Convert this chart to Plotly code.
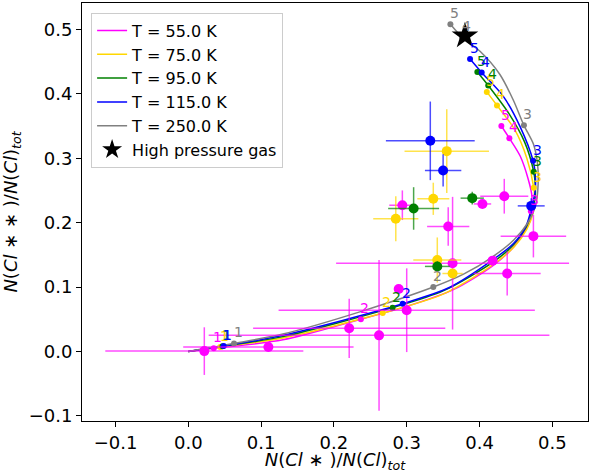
import plotly.graph_objects as go

# ---------------- data ----------------
temps = ["T = 55.0 K", "T = 75.0 K", "T = 95.0 K", "T = 115.0 K", "T = 250.0 K"]
density_labels = ["1", "2", "3", "4", "5"]

# model curves
c55_x = [0.000, 0.035, 0.130, 0.237, 0.300, 0.364, 0.418, 0.445, 0.461, 0.4695, 0.4705, 0.472, 0.467, 0.456, 0.441, 0.430]
c55_y = [0.000, 0.005, 0.018, 0.050, 0.070, 0.096, 0.133, 0.160, 0.185, 0.203, 0.2175, 0.241, 0.267, 0.303, 0.331, 0.350]
c75_x = [0.000, 0.044, 0.130, 0.267, 0.350, 0.420, 0.448, 0.465, 0.4735, 0.4755, 0.4745, 0.465, 0.448, 0.424, 0.410]
c75_y = [0.000, 0.007, 0.021, 0.0596, 0.089, 0.136, 0.163, 0.190, 0.215, 0.237, 0.254, 0.300, 0.345, 0.382, 0.403]
c95_x = [0.000, 0.047, 0.130, 0.2806, 0.350, 0.419, 0.447, 0.464, 0.4725, 0.4765, 0.4765, 0.4745, 0.462, 0.440, 0.412, 0.397]
c95_y = [0.000, 0.008, 0.023, 0.068, 0.094, 0.139, 0.166, 0.193, 0.220, 0.240, 0.260, 0.279, 0.325, 0.370, 0.413, 0.434]
c115_x = [0.000, 0.0486, 0.130, 0.2944, 0.360, 0.418, 0.447, 0.464, 0.472, 0.4765, 0.4765, 0.4736, 0.4557, 0.4327, 0.403, 0.387]
c115_y = [0.000, 0.0084, 0.025, 0.074, 0.100, 0.142, 0.168, 0.195, 0.225, 0.250, 0.275, 0.296, 0.349, 0.396, 0.433, 0.454]
c250_x = [0.000, 0.0628, 0.130, 0.240, 0.3365, 0.378, 0.418, 0.447, 0.466, 0.477, 0.4805, 0.4795, 0.474, 0.461, 0.4465, 0.428, 0.4007, 0.376, 0.360]
c250_y = [0.000, 0.0124, 0.027, 0.063, 0.100, 0.120, 0.147, 0.173, 0.199, 0.226, 0.260, 0.293, 0.322, 0.351, 0.390, 0.430, 0.466, 0.488, 0.508]

# labelled density points (log n = 1..5)
p55_x = [0.035, 0.237, 0.4705, 0.441, 0.430]
p55_y = [0.005, 0.050, 0.2175, 0.331, 0.350]
p75_x = [0.044, 0.267, 0.4745, 0.424, 0.410]
p75_y = [0.007, 0.0596, 0.254, 0.382, 0.403]
p95_x = [0.047, 0.2806, 0.4745, 0.412, 0.397]
p95_y = [0.008, 0.068, 0.279, 0.413, 0.434]
p115_x = [0.0486, 0.2944, 0.4736, 0.403, 0.387]
p115_y = [0.0084, 0.074, 0.296, 0.433, 0.454]
p250_x = [0.0628, 0.3365, 0.461, 0.376, 0.360]
p250_y = [0.0124, 0.100, 0.351, 0.488, 0.508]

# observations
mag_x = [0.022, 0.110, 0.221, 0.262, 0.300, 0.289, 0.363, 0.357, 0.294, 0.404, 0.434, 0.418, 0.438, 0.474]
mag_y = [0.0005, 0.007, 0.036, 0.025, 0.064, 0.097, 0.137, 0.194, 0.227, 0.229, 0.241, 0.141, 0.121, 0.179]
mag_xerr = [0.136, 0.117, 0.132, 0.234, 0.176, 0.0, 0.160, 0.029, 0.018, 0.012, 0.033, 0.0, 0.046, 0.045]
mag_yerr = [0.037, 0.004, 0.046, 0.117, 0.065, 0.0, 0.103, 0.030, 0.023, 0.006, 0.027, 0.0, 0.034, 0.033]

yel_x = [0.355, 0.3365, 0.285, 0.342, 0.363]
yel_y = [0.311, 0.237, 0.206, 0.142, 0.121]
yel_xerr = [0.058, 0.022, 0.031, 0.033, 0.014]
yel_yerr = [0.065, 0.025, 0.035, 0.035, 0.006]

grn_x = [0.3095, 0.390, 0.342]
grn_y = [0.222, 0.238, 0.132]
grn_xerr = [0.035, 0.016, 0.017]
grn_yerr = [0.033, 0.010, 0.008]

blu_x = [0.3324, 0.350, 0.471]
blu_y = [0.327, 0.281, 0.226]
blu_xerr = [0.061, 0.025, 0.0185]
blu_yerr = [0.061, 0.025, 0.012]

star_x = [0.380]
star_y = [0.490]

x_ticks = [-0.1, 0.0, 0.1, 0.2, 0.3, 0.4, 0.5]
x_ticktext = ["\u22120.1", "0.0", "0.1", "0.2", "0.3", "0.4", "0.5"]
y_ticks = [-0.1, 0.0, 0.1, 0.2, 0.3, 0.4, 0.5]
y_ticktext = ["\u22120.1", "0.0", "0.1", "0.2", "0.3", "0.4", "0.5"]

# ---------------- style ----------------
colors = ["#ff00ff", "#ffd700", "#008000", "#0000ff", "#808080"]
err_colors = ["rgba(255,0,255,0.7)", "rgba(255,215,0,0.7)", "rgba(0,128,0,0.7)", "rgba(0,0,255,0.7)"]
FONT = "DejaVu Sans"

curves = [(c55_x, c55_y), (c75_x, c75_y), (c95_x, c95_y), (c115_x, c115_y), (c250_x, c250_y)]
points = [(p55_x, p55_y), (p75_x, p75_y), (p95_x, p95_y), (p115_x, p115_y), (p250_x, p250_y)]
obs = [(mag_x, mag_y, mag_xerr, mag_yerr), (yel_x, yel_y, yel_xerr, yel_yerr),
       (grn_x, grn_y, grn_xerr, grn_yerr), (blu_x, blu_y, blu_xerr, blu_yerr)]

fig = go.Figure()
annotations = []
for i, name in enumerate(temps):
    cx, cy = curves[i]
    fig.add_trace(go.Scatter(x=cx, y=cy, mode="lines", name=name, legendgroup=name,
                             line=dict(color=colors[i], width=1.5, shape="spline", smoothing=0.8)))
for i, name in enumerate(temps):
    px, py = points[i]
    fig.add_trace(go.Scatter(x=px, y=py, mode="markers", showlegend=False, legendgroup=name,
                             marker=dict(color=colors[i], size=6)))
    for lab, xx, yy in zip(density_labels, px, py):
        annotations.append(dict(x=xx, y=yy, text=lab, showarrow=False, xanchor="center", yanchor="middle",
                                xshift=4, yshift=11, font=dict(family=FONT, size=14, color=colors[i])))

for i, (ox, oy, oxe, oye) in enumerate(obs):
    fig.add_trace(go.Scatter(x=ox, y=oy, mode="markers", showlegend=False,
                             marker=dict(color=colors[i], size=10),
                             error_x=dict(type="data", array=oxe, color=err_colors[i], thickness=1.5, width=0),
                             error_y=dict(type="data", array=oye, color=err_colors[i], thickness=1.5, width=0)))

fig.add_trace(go.Scatter(x=star_x, y=star_y, mode="markers", showlegend=False,
                         marker=dict(symbol="star", color="black", size=20)))
# legend entry for the star (smaller symbol so the row keeps the reference spacing)
fig.add_trace(go.Scatter(x=[None], y=[None], mode="markers", name="High pressure gas", legendgroup="star",
                         marker=dict(symbol="star", color="black", size=15)))

fig.update_layout(
    width=589, height=473,
    margin=dict(l=82, r=1, t=3, b=52),
    paper_bgcolor="white", plot_bgcolor="white",
    font=dict(family=FONT, size=18, color="black"),
    annotations=annotations,
    legend=dict(x=0.018, y=0.977, xanchor="left", yanchor="top",
                bgcolor="rgba(255,255,255,0.8)", bordercolor="#cccccc", borderwidth=1,
                font=dict(family=FONT, size=16, color="black"), tracegroupgap=0, itemwidth=30),
    xaxis=dict(range=[-0.146, 0.549], showline=True, linecolor="black", linewidth=1, mirror=True,
               ticks="outside", ticklen=5, tickcolor="black", showgrid=False, zeroline=False,
               tickvals=x_ticks, ticktext=x_ticktext, tickfont=dict(size=18),
               title=dict(text="<i>N</i>(<i>Cl</i> \u2217 )/<i>N</i>(<i>Cl</i>)<sub><i>tot</i></sub>",
                          font=dict(size=18), standoff=4)),
    yaxis=dict(range=[-0.108, 0.541], showline=True, linecolor="black", linewidth=1, mirror=True,
               ticks="outside", ticklen=5, tickcolor="black", showgrid=False, zeroline=False,
               tickvals=y_ticks, ticktext=y_ticktext, tickfont=dict(size=18),
               title=dict(text="<i>N</i>(<i>Cl</i> \u2217 \u2217 )/<i>N</i>(<i>Cl</i>)<sub><i>tot</i></sub>",
                          font=dict(size=18), standoff=6)),
)

fig.write_html("out.html")
